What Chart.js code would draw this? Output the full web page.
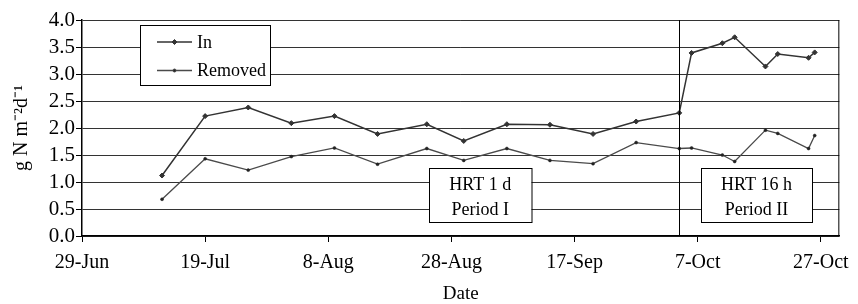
<!DOCTYPE html>
<html lang="en">
<head>
    <meta charset="UTF-8">
    <title>N load in / removed</title>
    <script src="https://cdn.jsdelivr.net/npm/chart.js"></script>
    <style>
        html, body { margin: 0; padding: 0; background: #fff; }
        #wrap { width: 858px; height: 304px; }
    </style>
</head>
<body>
    <div id="wrap"><canvas id="myChart" width="858" height="304"></canvas></div>
<script>
// days counted from 29-Jun
var sampleDays = [13, 20, 27, 34, 41, 48, 56, 62, 69, 76, 83, 90, 97, 99, 104, 106, 111, 113, 118, 119];
var inValues = [1.12, 2.22, 2.38, 2.09, 2.22, 1.89, 2.07, 1.76, 2.07, 2.06, 1.89, 2.12, 2.28, 3.39, 3.57, 3.68, 3.14, 3.37, 3.30, 3.40];
var removedValues = [0.68, 1.43, 1.22, 1.47, 1.63, 1.33, 1.62, 1.40, 1.62, 1.40, 1.34, 1.73, 1.62, 1.63, 1.50, 1.38, 1.96, 1.90, 1.62, 1.86];

var tickDays = [0, 20, 40, 60, 80, 100, 120];
var tickLabels = ['29-Jun', '19-Jul', '8-Aug', '28-Aug', '17-Sep', '7-Oct', '27-Oct'];
var periodSplitDay = 97;
var seriesNames = ['In', 'Removed'];
var periodTexts = [['HRT 1 d', 'Period I'], ['HRT 16 h', 'Period II']];

var serif = '"Liberation Serif", "Times New Roman", serif';

function toPoints(vals) {
    return sampleDays.map(function (d, i) { return { x: d, y: vals[i] }; });
}

var extras = {
    id: 'extras',
    afterDatasetsDraw: function (chart) {
        var ctx = chart.ctx;
        var a = chart.chartArea;
        var xs = chart.scales.x;
        ctx.save();
        // period divider + right frame
        ctx.strokeStyle = '#000';
        ctx.lineWidth = 1;
        var px = Math.round(xs.getPixelForValue(periodSplitDay)) + 0.5;
        ctx.beginPath();
        ctx.moveTo(px, a.top); ctx.lineTo(px, a.bottom);
        ctx.moveTo(a.right - 0.5, a.top); ctx.lineTo(a.right - 0.5, a.bottom);
        ctx.stroke();

        // legend
        ctx.fillStyle = '#fff';
        ctx.fillRect(140, 25, 131, 61);
        ctx.strokeRect(140.5, 25.5, 130, 60);
        ctx.font = '18px ' + serif;
        ctx.textBaseline = 'middle';
        ctx.textAlign = 'left';
        var rows = [42, 70.5];
        chart.data.datasets.forEach(function (ds, i) {
            ctx.strokeStyle = ds.borderColor;
            ctx.lineWidth = ds.borderWidth;
            ctx.beginPath();
            ctx.moveTo(157, rows[i]); ctx.lineTo(192, rows[i]);
            ctx.stroke();
            ctx.fillStyle = ds.pointBackgroundColor;
            ctx.lineWidth = 1;
            Chart.helpers.drawPoint(ctx, {
                pointStyle: ds.pointStyle, radius: ds.pointRadius, borderWidth: 1
            }, 174.5, rows[i]);
            ctx.fillStyle = '#000';
            ctx.fillText(seriesNames[i], 197, rows[i] + 1);
        });

        // period boxes
        var boxes = [[429, 531.5], [701, 812]];
        ctx.textAlign = 'center';
        boxes.forEach(function (b, i) {
            ctx.fillStyle = '#fff';
            ctx.fillRect(b[0], 168, b[1] - b[0], 55);
            ctx.strokeStyle = '#000';
            ctx.lineWidth = 1;
            ctx.strokeRect(b[0] + 0.5, 168.5, b[1] - b[0], 54);
            ctx.fillStyle = '#000';
            var cx = (b[0] + b[1]) / 2;
            ctx.fillText(periodTexts[i][0], cx, 185);
            ctx.fillText(periodTexts[i][1], cx, 210);
        });
        ctx.restore();
    }
};

var config = {
    type: 'line',
    data: {
        datasets: [
            {
                label: seriesNames[0],
                data: toPoints(inValues),
                borderColor: '#333',
                backgroundColor: '#333',
                pointBackgroundColor: '#333',
                pointBorderColor: '#333',
                borderWidth: 1.5,
                pointStyle: 'rectRot',
                pointRadius: 2.5,
                pointBorderWidth: 1,
                tension: 0
            },
            {
                label: seriesNames[1],
                data: toPoints(removedValues),
                borderColor: '#4a4a4a',
                backgroundColor: '#222',
                pointBackgroundColor: '#222',
                pointBorderColor: '#222',
                borderWidth: 1.3,
                pointStyle: 'circle',
                pointRadius: 1.5,
                pointBorderWidth: 0.5,
                tension: 0
            }
        ]
    },
    options: {
        responsive: false,
        animation: false,
        layout: { padding: { top: 20, right: 15, left: 0, bottom: 0 } },
        plugins: { legend: { display: false }, tooltip: { enabled: false } },
        scales: {
            x: {
                type: 'linear',
                min: 0,
                max: 123,
                afterBuildTicks: function (s) {
                    s.ticks = tickDays.map(function (v) { return { value: v }; });
                },
                afterFit: function (s) { s.height = 68; },
                ticks: {
                    color: '#000',
                    font: { family: serif, size: 20 },
                    padding: 9,
                    maxRotation: 0,
                    autoSkip: false,
                    callback: function (v) {
                        var k = tickDays.indexOf(v);
                        return k >= 0 ? tickLabels[k] : '';
                    }
                },
                grid: { drawOnChartArea: false, drawTicks: true, tickLength: 6, color: '#000' },
                border: { color: '#000', width: 1.5 },
                title: {
                    display: true,
                    text: 'Date',
                    color: '#000',
                    font: { family: serif, size: 19, lineHeight: 1 },
                    padding: { top: 0, bottom: 0 }
                }
            },
            y: {
                min: 0,
                max: 4,
                afterFit: function (s) { s.width = 82; },
                ticks: {
                    stepSize: 0.5,
                    autoSkip: false,
                    color: '#000',
                    font: { family: serif, size: 21 },
                    padding: 1,
                    callback: function (v) { return v.toFixed(1); }
                },
                grid: { color: '#333', lineWidth: 1, tickLength: 6, tickColor: '#000' },
                border: { color: '#000', width: 1.5 },
                title: {
                    display: true,
                    text: 'g N m\u207B\u00B2d\u207B\u00B9',
                    color: '#000',
                    font: { family: serif, size: 20, lineHeight: 1.2 },
                    padding: { top: 10, bottom: 0 }
                }
            }
        }
    },
    plugins: [extras]
};

var myChart = new Chart(document.getElementById('myChart'), config);
</script>
</body>
</html>
